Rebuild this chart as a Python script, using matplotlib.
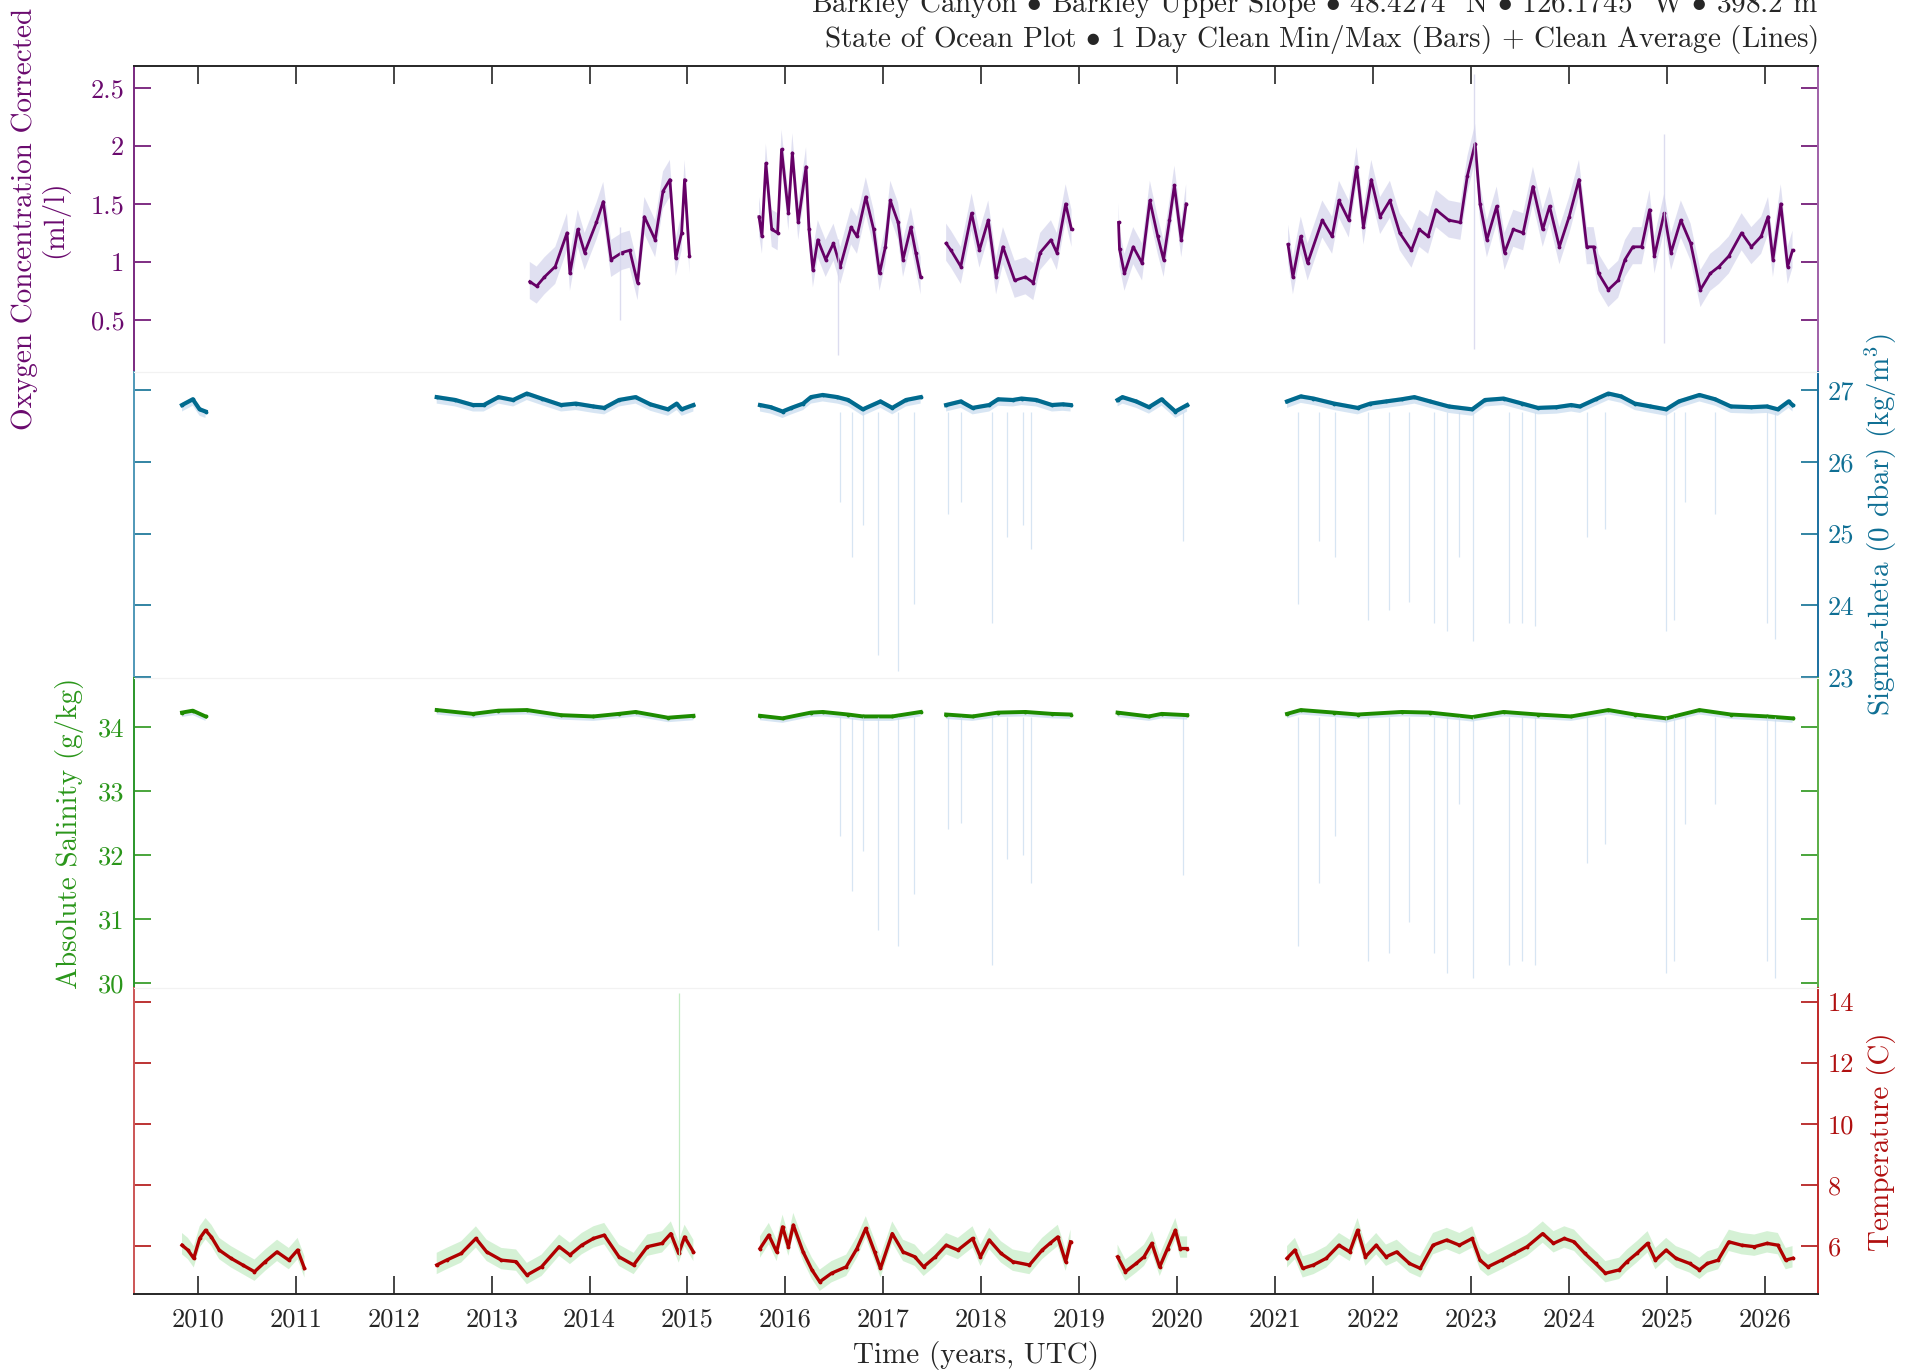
import numpy as np
import matplotlib
matplotlib.use("Agg")
import matplotlib.pyplot as plt

plt.rcParams['font.family'] = 'serif'
plt.rcParams['font.serif'] = ['cmr10']
plt.rcParams['mathtext.fontset'] = 'cm'
plt.rcParams['axes.formatter.use_mathtext'] = True
plt.rcParams['axes.unicode_minus'] = False

# ---- data (decimal years), one list per deployment ----
years = list(range(2010, 2027))

o2_t = [[2013.39, 2013.46, 2013.54, 2013.65, 2013.77, 2013.80, 2013.88, 2013.95, 2014.07, 2014.14, 2014.22,
         2014.33, 2014.41, 2014.49, 2014.56, 2014.67, 2014.75, 2014.82, 2014.88, 2014.94, 2014.97, 2015.02],
        [2015.73, 2015.76, 2015.80, 2015.86, 2015.92, 2015.96, 2016.03, 2016.07, 2016.13, 2016.21, 2016.24,
         2016.28, 2016.33, 2016.41, 2016.49, 2016.56, 2016.67, 2016.73, 2016.82, 2016.90, 2016.96, 2017.02,
         2017.07, 2017.15, 2017.20, 2017.28, 2017.33, 2017.38],
        [2017.64, 2017.69, 2017.79, 2017.90, 2017.98, 2018.07, 2018.15, 2018.22, 2018.34, 2018.45, 2018.53,
         2018.60, 2018.71, 2018.77, 2018.86, 2018.92],
        [2019.40, 2019.41, 2019.46, 2019.55, 2019.64, 2019.72, 2019.80, 2019.86, 2019.92, 2019.97, 2020.04, 2020.09],
        [2021.13, 2021.18, 2021.26, 2021.33, 2021.48, 2021.58, 2021.65, 2021.75, 2021.83, 2021.90, 2021.98,
         2022.07, 2022.17, 2022.27, 2022.39, 2022.47, 2022.56, 2022.64, 2022.77, 2022.89, 2022.96,
         2023.04, 2023.09, 2023.16, 2023.26, 2023.34, 2023.43, 2023.53, 2023.63, 2023.73, 2023.80, 2023.90,
         2024.00, 2024.10, 2024.18, 2024.25, 2024.30, 2024.40, 2024.50, 2024.57, 2024.65, 2024.74, 2024.82,
         2024.87, 2024.97, 2025.04, 2025.14, 2025.24, 2025.34, 2025.44, 2025.53, 2025.63, 2025.76, 2025.86,
         2025.96, 2026.03, 2026.08, 2026.16, 2026.23, 2026.28]]
o2_v = [[0.83, 0.79, 0.87, 0.96, 1.25, 0.90, 1.28, 1.08, 1.34, 1.52, 1.02,
         1.08, 1.10, 0.82, 1.39, 1.19, 1.61, 1.71, 1.03, 1.25, 1.71, 1.05],
        [1.39, 1.22, 1.85, 1.28, 1.25, 1.97, 1.42, 1.94, 1.34, 1.82, 1.28,
         0.93, 1.19, 1.02, 1.16, 0.96, 1.30, 1.22, 1.56, 1.28, 0.90, 1.13,
         1.53, 1.34, 1.02, 1.30, 1.08, 0.87],
        [1.16, 1.10, 0.96, 1.42, 1.10, 1.36, 0.87, 1.13, 0.84, 0.87, 0.82,
         1.08, 1.19, 1.08, 1.50, 1.28],
        [1.34, 1.11, 0.90, 1.13, 0.99, 1.53, 1.22, 1.02, 1.36, 1.66, 1.19, 1.50],
        [1.15, 0.87, 1.22, 0.99, 1.36, 1.22, 1.53, 1.36, 1.82, 1.30, 1.71,
         1.39, 1.53, 1.25, 1.10, 1.28, 1.22, 1.45, 1.36, 1.34, 1.74,
         2.02, 1.50, 1.19, 1.48, 1.08, 1.28, 1.25, 1.65, 1.28, 1.48, 1.13,
         1.39, 1.71, 1.13, 1.13, 0.90, 0.76, 0.84, 1.02, 1.13, 1.13, 1.45,
         1.05, 1.42, 1.08, 1.36, 1.16, 0.76, 0.90, 0.96, 1.05, 1.25, 1.13,
         1.22, 1.39, 1.02, 1.50, 0.96, 1.10]]
o2_spike_t = [2014.31, 2016.54, 2023.03, 2024.97]
o2_spike_lo = [0.50, 0.20, 0.25, 0.30]
o2_spike_hi = [1.30, 1.20, 2.62, 2.10]

sig_t = [[2009.84, 2009.95, 2010.02, 2010.08],
         [2012.44, 2012.63, 2012.81, 2012.92, 2013.07, 2013.22, 2013.36, 2013.51, 2013.71, 2013.86,
          2014.04, 2014.15, 2014.30, 2014.47, 2014.62, 2014.80, 2014.89, 2014.94, 2015.06],
         [2015.74, 2015.85, 2015.97, 2016.06, 2016.18, 2016.26, 2016.38, 2016.53, 2016.64, 2016.79,
          2016.97, 2017.09, 2017.23, 2017.38],
         [2017.64, 2017.79, 2017.91, 2018.08, 2018.17, 2018.32, 2018.41, 2018.56, 2018.72, 2018.83, 2018.91],
         [2019.39, 2019.44, 2019.58, 2019.71, 2019.84, 2019.98, 2020.10],
         [2021.12, 2021.26, 2021.39, 2021.60, 2021.84, 2021.97, 2022.13, 2022.29, 2022.42, 2022.58,
          2022.77, 2023.01, 2023.14, 2023.33, 2023.52, 2023.68, 2023.87, 2024.02, 2024.11, 2024.27,
          2024.40, 2024.53, 2024.67, 2024.83, 2024.99, 2025.12, 2025.33, 2025.49, 2025.65, 2025.86,
          2026.02, 2026.13, 2026.24, 2026.28]]
sig_v = [[26.79, 26.87, 26.73, 26.70],
         [26.90, 26.86, 26.79, 26.79, 26.90, 26.86, 26.95, 26.88, 26.79, 26.81,
          26.77, 26.75, 26.86, 26.90, 26.80, 26.73, 26.81, 26.73, 26.79],
         [26.79, 26.76, 26.70, 26.75, 26.81, 26.90, 26.93, 26.90, 26.86, 26.73,
          26.84, 26.75, 26.86, 26.90],
         [26.79, 26.84, 26.75, 26.79, 26.87, 26.86, 26.88, 26.86, 26.79, 26.80, 26.79],
         [26.86, 26.90, 26.84, 26.76, 26.87, 26.70, 26.79],
         [26.84, 26.91, 26.88, 26.81, 26.75, 26.81, 26.84, 26.87, 26.90, 26.84,
          26.77, 26.73, 26.86, 26.88, 26.81, 26.75, 26.76, 26.79, 26.77, 26.87,
          26.95, 26.91, 26.81, 26.77, 26.73, 26.84, 26.93, 26.87, 26.77, 26.76,
          26.77, 26.73, 26.84, 26.79]]

sal_t = [[2009.84, 2009.95, 2010.08],
         [2012.44, 2012.81, 2013.07, 2013.36, 2013.71, 2014.04, 2014.30, 2014.47, 2014.80, 2015.06],
         [2015.74, 2015.97, 2016.26, 2016.38, 2016.64, 2016.79, 2017.09, 2017.38],
         [2017.64, 2017.91, 2018.17, 2018.45, 2018.72, 2018.91],
         [2019.39, 2019.71, 2019.84, 2020.10],
         [2021.12, 2021.26, 2021.60, 2021.84, 2022.29, 2022.58, 2023.01, 2023.33, 2023.68, 2024.02,
          2024.40, 2024.67, 2024.99, 2025.33, 2025.65, 2026.02, 2026.28]]
sal_v = [[34.22, 34.25, 34.16],
         [34.26, 34.20, 34.25, 34.26, 34.18, 34.16, 34.20, 34.23, 34.14, 34.17],
         [34.17, 34.13, 34.22, 34.23, 34.19, 34.16, 34.16, 34.23],
         [34.19, 34.16, 34.22, 34.23, 34.20, 34.19],
         [34.22, 34.16, 34.20, 34.18],
         [34.20, 34.26, 34.22, 34.19, 34.23, 34.22, 34.15, 34.23, 34.19, 34.16,
          34.26, 34.19, 34.13, 34.26, 34.19, 34.16, 34.13]]

# daily minimum spikes seen in both sigma-theta and salinity
spike_t = [2016.56, 2016.68, 2016.79, 2016.94, 2017.15, 2017.31, 2017.66, 2017.79, 2018.11, 2018.26,
           2018.42, 2018.51, 2020.06, 2021.23, 2021.45, 2021.61, 2021.95, 2022.16, 2022.36, 2022.62,
           2022.75, 2022.88, 2023.02, 2023.39, 2023.52, 2023.65, 2024.18, 2024.37, 2024.99, 2025.07,
           2025.18, 2025.49, 2026.02, 2026.10]
sig_spike_min = [25.44, 24.68, 25.12, 23.31, 23.09, 24.02, 25.28, 25.44, 23.75, 24.95,
                 25.12, 24.79, 24.90, 24.02, 24.90, 24.68, 23.80, 23.94, 24.05, 23.75,
                 23.64, 24.68, 23.50, 23.75, 23.75, 23.72, 24.95, 25.06, 23.64, 23.80,
                 25.44, 25.28, 23.75, 23.53]
sal_spike_min = [32.30, 31.44, 32.06, 30.83, 30.58, 31.38, 32.40, 32.50, 30.28, 31.93,
                 31.99, 31.56, 31.68, 30.58, 31.56, 32.30, 30.34, 30.46, 30.95, 30.46,
                 30.16, 32.79, 30.07, 30.28, 30.34, 30.28, 31.87, 32.17, 30.16, 30.34,
                 32.48, 32.79, 30.34, 30.07]

temp_t = [[2009.84, 2009.90, 2009.96, 2010.02, 2010.08, 2010.14, 2010.22, 2010.34, 2010.46, 2010.58,
           2010.69, 2010.81, 2010.93, 2011.02, 2011.09],
          [2012.44, 2012.54, 2012.69, 2012.84, 2012.95, 2013.10, 2013.25, 2013.36, 2013.51, 2013.69,
           2013.80, 2013.92, 2014.04, 2014.15, 2014.30, 2014.45, 2014.59, 2014.74, 2014.83, 2014.91,
           2014.97, 2015.06],
          [2015.74, 2015.83, 2015.91, 2015.97, 2016.03, 2016.08, 2016.18, 2016.27, 2016.35, 2016.47,
           2016.62, 2016.73, 2016.82, 2016.91, 2016.97, 2017.09, 2017.20, 2017.32, 2017.41, 2017.53,
           2017.64, 2017.76, 2017.91, 2017.99, 2018.08, 2018.20, 2018.32, 2018.49, 2018.62, 2018.70,
           2018.78, 2018.86, 2018.91],
          [2019.39, 2019.47, 2019.58, 2019.66, 2019.74, 2019.82, 2019.90, 2019.98, 2020.03, 2020.10],
          [2021.12, 2021.20, 2021.28, 2021.39, 2021.52, 2021.65, 2021.76, 2021.84, 2021.92,
           2022.03, 2022.13, 2022.24, 2022.37, 2022.48, 2022.61, 2022.75, 2022.88,
           2023.01, 2023.09, 2023.17, 2023.31, 2023.44, 2023.57, 2023.73, 2023.84, 2023.95,
           2024.05, 2024.16, 2024.27, 2024.37, 2024.51, 2024.59, 2024.69, 2024.80, 2024.88, 2024.99,
           2025.09, 2025.23, 2025.33, 2025.41, 2025.52, 2025.63, 2025.76, 2025.89,
           2026.02, 2026.13, 2026.21, 2026.28]]
temp_v = [[6.03, 5.87, 5.60, 6.25, 6.52, 6.30, 5.87, 5.60, 5.38, 5.16, 5.49, 5.81, 5.54, 5.87, 5.27],
          [5.38, 5.54, 5.76, 6.25, 5.81, 5.54, 5.49, 5.05, 5.32, 5.98, 5.71, 6.03, 6.25, 6.36, 5.65,
           5.38, 5.98, 6.09, 6.41, 5.76, 6.30, 5.81],
          [5.92, 6.36, 5.81, 6.63, 5.98, 6.69, 5.81, 5.22, 4.83, 5.11, 5.32, 5.92, 6.58, 5.81, 5.27,
           6.41, 5.81, 5.65, 5.32, 5.65, 6.03, 5.87, 6.25, 5.65, 6.20, 5.76, 5.49, 5.38, 5.87, 6.09,
           6.30, 5.49, 6.14],
          [5.65, 5.16, 5.43, 5.65, 6.09, 5.32, 5.92, 6.52, 5.92, 5.92],
          [5.60, 5.87, 5.27, 5.38, 5.60, 6.03, 5.81, 6.52, 5.65,
           6.03, 5.65, 5.81, 5.43, 5.27, 6.03, 6.20, 6.03,
           6.25, 5.54, 5.32, 5.54, 5.76, 5.98, 6.41, 6.09, 6.25,
           6.14, 5.76, 5.43, 5.11, 5.22, 5.49, 5.76, 6.09, 5.54, 5.87,
           5.60, 5.43, 5.22, 5.43, 5.54, 6.14, 6.03, 5.98,
           6.09, 6.03, 5.54, 5.60]]
temp_spike_t = [2014.91]
temp_spike_lo = [5.70]
temp_spike_hi = [14.3]

# typical daily min/max spread below / above the average
o2_range = (0.15, 0.17)
sig_range = (0.09, 0.03)
sal_range = (0.07, 0.02)
temp_range = (0.30, 0.40)


def join(segs):
    # glue deployments together with a NaN so lines break at the gaps
    out = []
    for s in segs:
        out += list(s) + [np.nan]
    return np.array(out[:-1])


title1 = (r"Barkley Canyon $\bullet$ Barkley Upper Slope $\bullet$ 48.4274$^\circ$N $\bullet$ "
          r"126.1745$^\circ$W $\bullet$ 398.2 m")
title2 = r"State of Ocean Plot $\bullet$ 1 Day Clean Min/Max (Bars) + Clean Average (Lines)"

W, H = 1917, 1371
fig = plt.figure(figsize=(W / 100, H / 100), dpi=100)

TICK_FS = 19
LABEL_FS = 21

left = 134 / W
width = (1818 - 134) / W
# panel pixel rows (top, bottom)
rows = [(66, 372), (372, 678), (678, 988), (988, 1294)]

panels = [
    dict(t=o2_t, v=o2_v, rng=o2_range, ylim=(0.05, 2.69), ticks=[0.5, 1, 1.5, 2, 2.5],
         ticklab=['0.5', '1', '1.5', '2', '2.5'], side='left', lw=2.0,
         line='#660066', band='#d4d4ec', txt='#6a0a6e', spine='#7a2a80', spine2='#a060a8'),
    dict(t=sig_t, v=sig_v, rng=sig_range, ylim=(22.99, 27.25), ticks=[23, 24, 25, 26, 27],
         ticklab=['23', '24', '25', '26', '27'], side='right', lw=3.0,
         line='#006a8e', band='#c6dbef', txt='#0f6f94', spine='#1a70a0', spine2='#4f98b8'),
    dict(t=sal_t, v=sal_v, rng=sal_range, ylim=(29.92, 34.76), ticks=[30, 31, 32, 33, 34],
         ticklab=['30', '31', '32', '33', '34'], side='left', lw=2.8,
         line='#1e8c00', band='#c6dbef', txt='#2a961a', spine='#2a962a', spine2='#5aae45'),
    dict(t=temp_t, v=temp_v, rng=temp_range, ylim=(4.43, 14.46), ticks=[6, 8, 10, 12, 14],
         ticklab=['6', '8', '10', '12', '14'], side='right', lw=2.4,
         line='#b00000', band='#c4ecc4', txt='#b01010', spine='#c02828', spine2='#cc5555'),
]

axes = []
for i, (p, (top, bot)) in enumerate(zip(panels, rows)):
    ax = fig.add_axes([left, 1 - bot / H, width, (bot - top) / H])
    axes.append(ax)
    t = join(p['t'])
    v = join(p['v'])
    lo, hi = p['rng']
    ax.fill_between(t, v - lo, v + hi, color=p['band'], alpha=0.7, lw=0)
    ax.plot(t, v, color=p['line'], lw=p['lw'], marker='.', ms=3.5, solid_joinstyle='round')

    ax.set_xlim(2009.35, 2026.54)
    ax.set_ylim(*p['ylim'])
    ax.set_yticks(p['ticks'])
    ax.set_yticklabels(p['ticklab'])
    ax.tick_params(axis='y', which='both', direction='in', length=12, width=1.2,
                   left=True, right=True, labelleft=(p['side'] == 'left'),
                   labelright=(p['side'] == 'right'), colors=p['txt'], labelsize=TICK_FS, pad=7)
    ax.patch.set_alpha(0)

    for s in ['left', 'right']:
        ax.spines[s].set_linewidth(1.4)
    ax.spines['left'].set_color(p['spine'] if p['side'] == 'left' else p['spine2'])
    ax.spines['right'].set_color(p['spine'] if p['side'] == 'right' else p['spine2'])
    ax.spines['top'].set_color('#f2f2f2')
    ax.spines['bottom'].set_color('#f2f2f2')

    ax.set_xticks(years)
    ax.tick_params(axis='x', which='both', bottom=False, top=False, labelbottom=False)

# spikes in the min/max bars
axes[0].vlines(o2_spike_t, o2_spike_lo, o2_spike_hi, color=panels[0]['band'], lw=1.0, alpha=0.8)
axes[1].vlines(spike_t, sig_spike_min, [26.7] * len(spike_t), color='#c6dbef', lw=0.9, alpha=0.7)
axes[2].vlines(spike_t, sal_spike_min, [34.15] * len(spike_t), color='#c6dbef', lw=0.9, alpha=0.7)
axes[3].vlines(temp_spike_t, temp_spike_lo, temp_spike_hi, color=panels[3]['band'], lw=0.9)

# outer frame: top and bottom with year ticks
axes[0].spines['top'].set_color('#262626')
axes[0].spines['top'].set_linewidth(1.4)
axes[0].tick_params(axis='x', top=True, direction='in', length=13, width=1.2, color='#262626')
axes[3].spines['bottom'].set_color('#262626')
axes[3].spines['bottom'].set_linewidth(1.4)
axes[3].tick_params(axis='x', bottom=True, labelbottom=True, direction='in', length=13, width=1.2,
                    color='#262626', labelcolor='#262626', labelsize=TICK_FS, pad=10)
axes[3].set_xticklabels([str(y) for y in years])

# axis labels
fig.text(40 / W, 1 - 219 / H, "Oxygen Concentration Corrected\n(ml/l)", rotation=90,
         ha='center', va='center', multialignment='center', fontsize=LABEL_FS, color=panels[0]['txt'],
         linespacing=1.1)
fig.text(1881 / W, 1 - 525 / H, r"Sigma-theta (0 dbar) (kg/m$^3$)", rotation=90,
         ha='center', va='center', fontsize=LABEL_FS, color=panels[1]['txt'])
fig.text(70 / W, 1 - 833 / H, "Absolute Salinity (g/kg)", rotation=90,
         ha='center', va='center', fontsize=LABEL_FS, color=panels[2]['txt'])
fig.text(1881 / W, 1 - 1142 / H, "Temperature (C)", rotation=90,
         ha='center', va='center', fontsize=LABEL_FS, color=panels[3]['txt'])
fig.text(976 / W, 1 - 1355 / H, "Time (years, UTC)", ha='center', va='center',
         fontsize=LABEL_FS, color='#262626')

# title, right aligned to the frame
fig.text(1818 / W, 1 - 5 / H, title1, ha='right', va='center', fontsize=LABEL_FS, color='#262626')
fig.text(1818 / W, 1 - 39 / H, title2, ha='right', va='center', fontsize=LABEL_FS, color='#262626')

fig.savefig("out.png", dpi=100)
